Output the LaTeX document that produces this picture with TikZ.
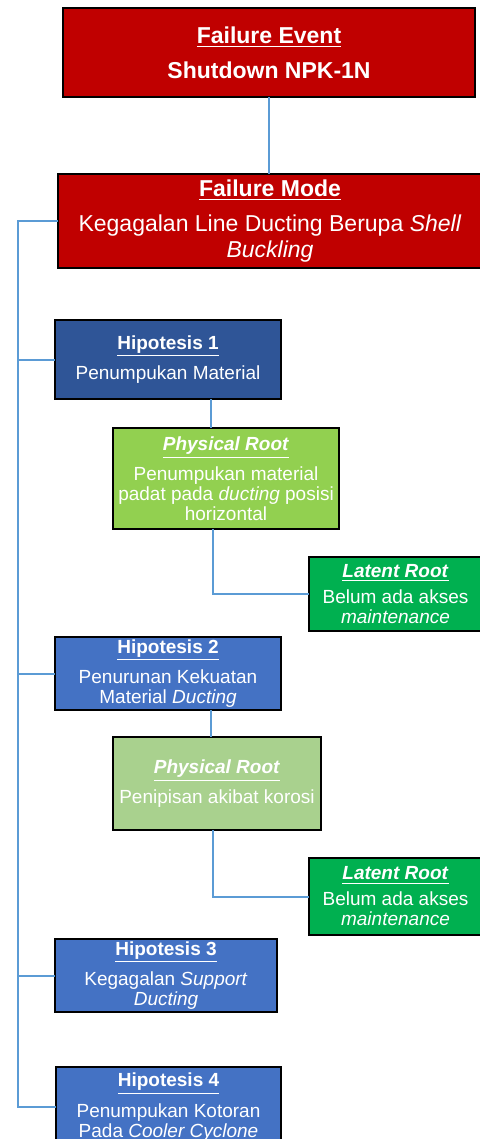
\documentclass[tikz,border=0pt]{standalone}
\usepackage{fontspec}
\setmainfont{Liberation Sans}
\usepackage{xcolor}
\usetikzlibrary{positioning}

\definecolor{evred}{HTML}{C00000}
\definecolor{hypdark}{HTML}{2F5597}
\definecolor{hypblue}{HTML}{4472C4}
\definecolor{physgreen}{HTML}{92D050}
\definecolor{physlight}{HTML}{A9D18E}
\definecolor{latgreen}{HTML}{00B050}
\definecolor{linkblue}{HTML}{5B9BD5}

\newcommand{\boxtitle}[1]{\underline{\textbf{#1}}}

\begin{document}
\begin{tikzpicture}[
        every node/.style={font=\fontsize{9.5}{10}\selectfont, text=white, align=center},
        basebox/.style={draw=black, line width=0.9pt, inner sep=0pt, outer sep=0pt},
        eventbox/.style={basebox, fill=evred, font=\fontsize{11.5}{13}\selectfont},
        hypbox/.style={basebox, fill=hypblue},
        physbox/.style={basebox, fill=physgreen},
        latentbox/.style={basebox, fill=latgreen,
                          minimum width=86.5pt},
        link/.style={draw=linkblue, line width=1pt}
    ]
    \useasboundingbox (0,0) rectangle (240pt,-569.5pt);

    % --- Top ---
    \node[eventbox, minimum width=206pt, minimum height=44.5pt] (FE) at (134.5pt,-26.25pt)
        {\boxtitle{Failure Event}\\[4.5pt]\textbf{Shutdown NPK-1N}};
    \node[eventbox, minimum width=212pt, minimum height=47pt,
          below=38.5pt of FE, xshift=0.5pt] (FM)
        {\boxtitle{Failure Mode}\\[4.5pt]Kegagalan Line Ducting Berupa \textit{Shell}\\\textit{Buckling}};

    % --- Hipotesis 1 ---
    \node[hypbox, fill=hypdark, minimum width=113pt, minimum height=39.5pt,
          below=26pt of FM.south west, anchor=north west, xshift=-1.5pt] (H1)
        {\boxtitle{Hipotesis 1}\\[3.5pt]Penumpukan Material};
    \node[physbox, minimum width=113pt, minimum height=50.5pt,
          below=14.5pt of H1.south west, anchor=north west, xshift=29pt] (PR1)
        {\boxtitle{\textit{Physical Root}}\\[3pt]Penumpukan material\\padat pada \textit{ducting} posisi\\horizontal};
    \node[latentbox, minimum height=37pt,
          below=14pt of PR1.south east, anchor=north west, xshift=-15pt] (LR1)
        {\boxtitle{\textit{Latent Root}}\\[3pt]Belum ada akses\\\textit{maintenance}};

    % --- Hipotesis 2 ---
    \node[hypbox, minimum width=113pt, minimum height=36.5pt, below=119pt of H1] (H2)
        {\boxtitle{Hipotesis 2}\\[3.5pt]Penurunan Kekuatan\\Material \textit{Ducting}};
    \node[physbox, fill=physlight, minimum width=104pt, minimum height=46.5pt,
          below=13.5pt of H2.south west, anchor=north west, xshift=29pt] (PR2)
        {\boxtitle{\textit{Physical Root}}\\[3pt]Penipisan akibat korosi};
    \node[latentbox, minimum height=38.5pt, below=113.5pt of LR1] (LR2)
        {\boxtitle{\textit{Latent Root}}\\[3pt]Belum ada akses\\\textit{maintenance}};

    % --- Hipotesis 3 and 4 ---
    \node[hypbox, minimum width=111pt, minimum height=36.5pt,
          below=114.5pt of H2.south west, anchor=north west] (H3)
        {\boxtitle{Hipotesis 3}\\[3.5pt]Kegagalan \textit{Support}\\\textit{Ducting}};
    \node[hypbox, minimum width=112.5pt, minimum height=40pt,
          below=27.5pt of H3.south west, anchor=north west, xshift=0.5pt] (H4)
        {\boxtitle{Hipotesis 4}\\[3.5pt]Penumpukan Kotoran\\Pada \textit{Cooler Cyclone}};

    % --- Links ---
    \coordinate (spine) at (9pt,0);
    \draw[link] (FE.south) -- (FE.south |- FM.north);
    \draw[link] (FM.west) -- (FM.west -| spine) -- (H4.west -| spine) -- (H4.west);
    \foreach \h in {H1,H2,H3}
        \draw[link] (spine |- \h.west) -- (\h.west);

    \draw[link] ([xshift=-7.5pt]PR1.north |- H1.south) -- ([xshift=-7.5pt]PR1.north);
    \draw[link] ([xshift=-6.5pt]PR1.south) |- (LR1.west);
    \draw[link] ([xshift=-3pt]PR2.north |- H2.south) -- ([xshift=-3pt]PR2.north);
    \draw[link] ([xshift=-2pt]PR2.south) |- (LR2.west);

\end{tikzpicture}
\end{document}
